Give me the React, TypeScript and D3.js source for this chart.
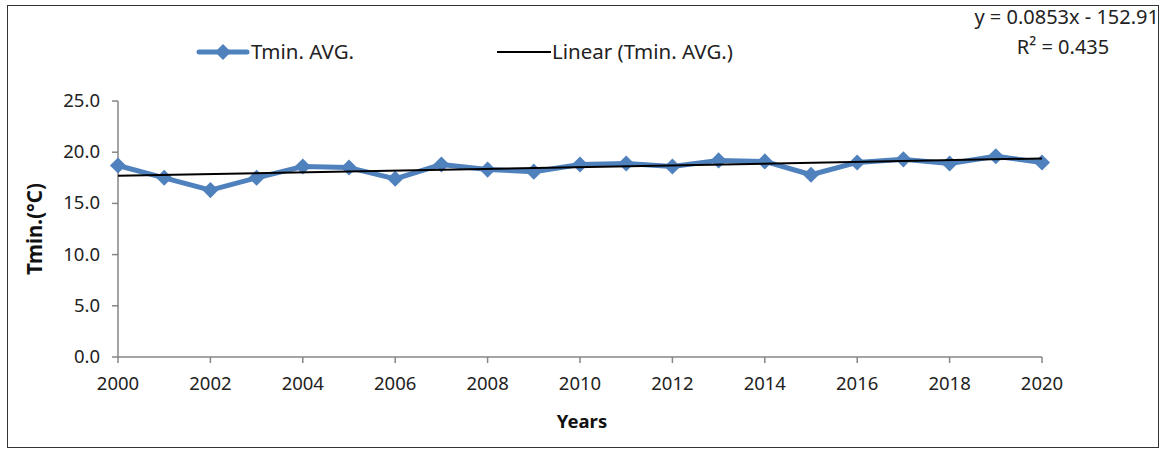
import React from "react";
import * as d3 from "d3";

// Tmin. AVG. per year
const years = [2000, 2001, 2002, 2003, 2004, 2005, 2006, 2007, 2008, 2009, 2010,
  2011, 2012, 2013, 2014, 2015, 2016, 2017, 2018, 2019, 2020];
const tminAvg = [18.7, 17.5, 16.3, 17.5, 18.6, 18.5, 17.4, 18.8, 18.3, 18.1, 18.8,
  18.9, 18.6, 19.2, 19.1, 17.8, 19.0, 19.3, 18.9, 19.6, 19.0];
const xTicks = [2000, 2002, 2004, 2006, 2008, 2010, 2012, 2014, 2016, 2018, 2020];
const yTicks = [0, 5, 10, 15, 20, 25];
// linear trend (from the equation shown)
const slope = 0.0853;
const intercept = -152.91;
const r2 = 0.435;

const W = 1166;
const H = 450;
const margin = { top: 101, right: 124, bottom: 93, left: 118 };
const font = "'Noto Sans', 'Open Sans', sans-serif";
const blue = "#4F81BD";
const axisGrey = "#868686";

export default function App() {
  const x = d3.scaleLinear()
    .domain([2000, 2020])
    .range([margin.left, W - margin.right]);
  const y = d3.scaleLinear()
    .domain([0, 25])
    .range([H - margin.bottom, margin.top]);

  const pts = years.map((yr, i) => [yr, tminAvg[i]] as [number, number]);
  const line = d3.line<[number, number]>()
    .x(d => x(d[0]))
    .y(d => y(d[1]));
  const trend: [number, number][] = [2000, 2020].map(yr => [yr, slope * yr + intercept]);
  const diamond = d3.symbol(d3.symbolDiamond2, 165)();

  const x0 = x(2000);
  const x1 = x(2020);
  const yBase = y(0);

  return (
    <svg width={W} height={H} style={{ position: "fixed", left: 0, top: 0, background: "#fff" }}
      fontFamily={font}>
      <rect x={7.5} y={5.5} width={1151} height={442} fill="#fff" stroke="#333" strokeWidth={1} />

      {/* equation */}
      <text x={1159} y={24} textAnchor="end" fontSize={20} fill="#222">
        {`y = ${slope}x - ${Math.abs(intercept)}`}
      </text>
      <text x={1063} y={54} textAnchor="middle" fontSize={20} fill="#222">
        R² = {r2}
      </text>

      {/* legend */}
      <g>
        <line x1={199} x2={247} y1={52} y2={52} stroke={blue} strokeWidth={5} strokeLinecap="round" />
        <path d={diamond} transform="translate(223,52)" fill={blue} />
        <text x={251} y={59} fontSize={20.5} fill="#222">Tmin. AVG.</text>
        <line x1={497} x2={551} y1={52} y2={52} stroke="#000" strokeWidth={2} />
        <text x={552} y={59} fontSize={20.5} fill="#222">Linear (Tmin. AVG.)</text>
      </g>

      {/* axes */}
      <line x1={x0} x2={x0} y1={y(25)} y2={yBase} stroke={axisGrey} strokeWidth={1.5} />
      {yTicks.map(t => (
        <g key={t}>
          <line x1={x0 - 6} x2={x0} y1={y(t)} y2={y(t)} stroke={axisGrey} strokeWidth={1.5} />
          <text x={x0 - 18} y={y(t) + 6} textAnchor="end" fontSize={18.5} fill="#222">
            {t.toFixed(1)}
          </text>
        </g>
      ))}
      <line x1={x0} x2={x1} y1={yBase} y2={yBase} stroke={axisGrey} strokeWidth={1.5} />
      {xTicks.map(t => (
        <g key={t}>
          <line x1={x(t)} x2={x(t)} y1={yBase} y2={yBase + 6} stroke={axisGrey} strokeWidth={1.5} />
          <text x={x(t)} y={yBase + 33} textAnchor="middle" fontSize={18.5} fill="#222">{t}</text>
        </g>
      ))}

      <text x={582} y={428} textAnchor="middle" fontSize={18.5} fontWeight="bold" fill="#111">Years</text>
      <text transform={`translate(42,${(y(25) + yBase) / 2}) rotate(-90)`} textAnchor="middle"
        fontSize={20.5} fontWeight="bold" fill="#111">Tmin.(°C)</text>

      {/* series */}
      <path d={line(pts) ?? ""} fill="none" stroke={blue} strokeWidth={5} strokeLinejoin="round" />
      {pts.map(p => (
        <path key={p[0]} d={diamond} transform={`translate(${x(p[0])},${y(p[1])})`} fill={blue} />
      ))}
      <path d={line(trend) ?? ""} fill="none" stroke="#000" strokeWidth={2} />
    </svg>
  );
}
